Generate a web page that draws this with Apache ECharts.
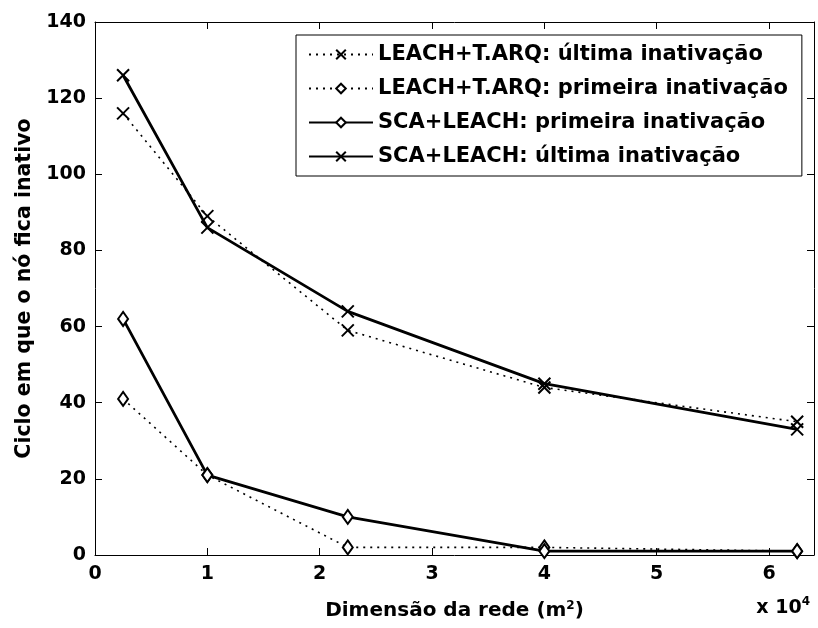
<!DOCTYPE html>
<html>
<head>
<meta charset="utf-8">
<script src="https://cdn.jsdelivr.net/npm/echarts@6/dist/echarts.min.js"></script>
<style>
html,body{margin:0;padding:0;background:#fff;}
#c{width:818px;height:628px;}
</style>
</head>
<body>
<div id="c"></div>
<script>
// Network size (x 10^4 m^2)
const xValues = [0.25, 1, 2.25, 4, 6.25];
// Cycle at which node becomes inactive
const leachLast  = [116, 89, 59, 44, 35];
const leachFirst = [41, 21, 2, 2, 1];
const scaFirst   = [62, 21, 10, 1, 1];
const scaLast    = [126, 86, 64, 45, 33];
const seriesNames = [
  'LEACH+T.ARQ: última inativação',
  'LEACH+T.ARQ: primeira inativação',
  'SCA+LEACH: primeira inativação',
  'SCA+LEACH: última inativação'
];
const xTicks = [0, 1, 2, 3, 4, 5, 6];
const yTicks = [0, 20, 40, 60, 80, 100, 120, 140];

const FONT = 'DejaVu Sans';
const crossPath = 'path://M0,0L10,10M0,10L10,0';

function pairs(ys){ return xValues.map((x,i)=>[x, ys[i]]); }

function mkSeries(name, ys, dotted, marker){
  const isCross = marker === 'x';
  return {
    name: name,
    type: 'line',
    data: pairs(ys),
    symbol: isCross ? crossPath : 'diamond',
    symbolSize: isCross ? 12 : [10, 14],
    showAllSymbol: true,
    z: dotted ? 2 : 3,
    lineStyle: {
      color: '#000',
      width: dotted ? 1.6 : 2.8,
      type: dotted ? [2, 5] : 'solid'
    },
    itemStyle: {
      color: isCross ? '#000' : '#fff',
      borderColor: '#000',
      borderWidth: 2
    },
    emphasis: { disabled: true }
  };
}

const chart = echarts.init(document.getElementById('c'), null, {renderer: 'canvas'});
const axisTextStyle = { color: '#000', fontFamily: FONT, fontWeight: 'bold', fontSize: 19 };

chart.setOption({
  animation: false,
  backgroundColor: '#fff',
  grid: { left: 95, top: 22, right: 4, bottom: 73, containLabel: false },
  legend: {
    orient: 'vertical',
    left: 296,
    top: 35,
    itemWidth: 64,
    itemHeight: 12,
    itemGap: 13,
    padding: [9, 14, 9, 12],
    backgroundColor: '#fff',
    borderColor: '#000',
    borderWidth: 1,
    borderRadius: 0,
    selectedMode: false,
    textStyle: { color: '#000', fontFamily: FONT, fontWeight: 'bold', fontSize: 21 },
    data: seriesNames
  },
  xAxis: [{
    type: 'value',
    min: 0, max: 6.4, interval: 1,
    position: 'bottom',
    splitLine: { show: false },
    axisLine: { show: true, onZero: false, lineStyle: { color: '#000', width: 1 } },
    axisTick: { show: true, inside: true, length: 7, lineStyle: { color: '#000' } },
    axisLabel: Object.assign({ margin: 10, showMaxLabel: false,
      formatter: v => (xTicks.indexOf(v) >= 0 ? String(v) : '') }, axisTextStyle),
    name: 'Dimensão da rede (m{s|2})',
    nameLocation: 'middle',
    nameGap: 45,
    nameTextStyle: {
      color: '#000', fontFamily: FONT, fontWeight: 'bold', fontSize: 20,
      rich: { s: { fontFamily: FONT, fontWeight: 'bold', fontSize: 12, verticalAlign: 'top', padding: [0,0,10,0] } }
    }
  }, {
    type: 'value',
    min: 0, max: 6.4, interval: 1,
    position: 'top',
    splitLine: { show: false },
    axisLine: { show: true, onZero: false, lineStyle: { color: '#000', width: 1 } },
    axisTick: { show: true, inside: true, length: 7, lineStyle: { color: '#000' } },
    axisLabel: { show: false }
  }],
  yAxis: [{
    type: 'value',
    min: 0, max: 140, interval: 20,
    position: 'left',
    splitLine: { show: false },
    axisLine: { show: true, onZero: false, lineStyle: { color: '#000', width: 1 } },
    axisTick: { show: true, inside: true, length: 7, lineStyle: { color: '#000' } },
    axisLabel: Object.assign({ margin: 9,
      formatter: v => (yTicks.indexOf(v) >= 0 ? String(v) : '') }, axisTextStyle),
    name: 'Ciclo em que o nó fica inativo',
    nameLocation: 'middle',
    nameGap: 60,
    nameRotate: 90,
    nameTextStyle: { color: '#000', fontFamily: FONT, fontWeight: 'bold', fontSize: 20.5 }
  }, {
    type: 'value',
    min: 0, max: 140, interval: 20,
    position: 'right',
    splitLine: { show: false },
    axisLine: { show: true, onZero: false, lineStyle: { color: '#000', width: 1 } },
    axisTick: { show: true, inside: true, length: 7, lineStyle: { color: '#000' } },
    axisLabel: { show: false }
  }],
  graphic: [{
    type: 'text',
    right: 8,
    top: 596,
    style: {
      text: 'x 10{s|4}',
      fill: '#000',
      font: 'bold 19px "DejaVu Sans"',
      rich: { s: { font: 'bold 12px "DejaVu Sans"', fill: '#000', verticalAlign: 'top', padding: [0,0,12,0] } }
    }
  }],
  series: [
    mkSeries(seriesNames[0], leachLast, true, 'x'),
    mkSeries(seriesNames[1], leachFirst, true, 'd'),
    mkSeries(seriesNames[2], scaFirst, false, 'd'),
    mkSeries(seriesNames[3], scaLast, false, 'x')
  ]
});
</script>
</body>
</html>
